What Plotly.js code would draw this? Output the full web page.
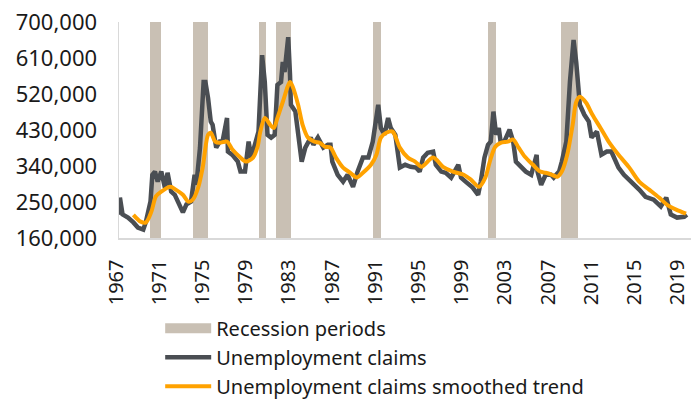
<!DOCTYPE html>
<html>
<head>
<meta charset="utf-8">
<script src="https://cdn.plot.ly/plotly-3.0.1.min.js"></script>
<style>
  html, body { margin: 0; padding: 0; background: #ffffff; }
  #chart { width: 691px; height: 400px; }
</style>
</head>
<body>
<div id="chart"></div>
<script>
// Recession periods (start month, first month after end)
const recessionStarts = ['1969-12-01','1973-11-01','1980-01-01','1981-07-01','1990-07-01','2001-03-01','2007-12-01'];
const recessionEnds   = ['1970-12-01','1975-04-01','1980-08-01','1982-12-01','1991-04-01','2001-12-01','2009-07-01'];

// Unemployment claims
const claimDates = ['1967-01','1967-02','1967-05','1967-11','1968-05','1968-10','1969-04','1969-07','1969-12',
  '1970-02','1970-05','1970-08','1970-12','1971-04','1971-07','1971-11','1972-03','1972-07','1972-12',
  '1973-04','1973-09','1974-01','1974-03','1974-07','1974-11','1975-01','1975-04','1975-07','1975-09',
  '1976-01','1976-05','1976-08','1977-01','1977-02','1977-07','1978-01','1978-04','1978-09','1979-01',
  '1979-04','1979-08','1979-12','1980-04','1980-07','1980-10','1981-02','1981-06','1981-09','1982-01',
  '1982-03','1982-05','1982-09','1982-11','1982-12','1983-05','1983-08','1983-12','1984-04','1984-10',
  '1985-01','1985-06','1985-12','1986-05','1986-08','1986-10','1987-04','1987-10','1988-03','1988-09',
  '1989-02','1989-08','1990-02','1990-07','1991-01','1991-04','1991-08','1991-12','1992-03','1992-08',
  '1993-01','1993-07','1994-01','1994-07','1994-11','1995-03','1995-08','1996-02','1996-05','1996-11',
  '1997-04','1997-10','1998-06','1998-09','1999-02','1999-10','2000-04','2000-07','2000-11','2001-03',
  '2001-06','2001-09','2001-12','2002-03','2002-05','2002-09','2003-03','2003-07','2003-10','2004-04',
  '2004-09','2005-03','2005-09','2005-10','2006-02','2006-07','2007-01','2007-04','2007-10','2008-01',
  '2008-06','2008-10','2009-02','2009-05','2009-09','2010-02','2010-07','2010-10','2011-04','2011-09',
  '2012-03','2012-08','2013-04','2013-10','2014-06','2015-03','2015-10','2016-07','2017-03','2017-09',
  '2018-02','2018-09','2019-05','2019-08'];
const claimValues = [218000,261000,219000,211000,199000,186000,181000,201000,251000,
  318000,326000,301000,326000,286000,323000,276000,268000,251000,224000,
  244000,251000,318000,293000,385000,550000,550000,510000,451000,443000,
  386000,401000,401000,460000,376000,368000,351000,326000,326000,401000,
  361000,393000,426000,617000,550000,418000,411000,418000,543000,550000,
  600000,575000,662000,568000,493000,476000,411000,351000,386000,411000,
  393000,411000,386000,393000,393000,351000,318000,301000,318000,288000,
  326000,361000,361000,401000,493000,435000,418000,460000,435000,418000,
  336000,343000,338000,336000,326000,361000,373000,376000,343000,326000,
  323000,311000,343000,311000,301000,286000,268000,301000,361000,393000,
  401000,476000,418000,435000,401000,401000,431000,401000,351000,336000,
  326000,318000,368000,326000,293000,318000,318000,311000,326000,351000,
  401000,550000,655000,600000,493000,468000,451000,411000,426000,368000,
  376000,376000,336000,318000,301000,281000,263000,256000,239000,261000,
  219000,211000,213000,218000];

// Smoothed trend
const trendDates = ['1968-05','1969-01','1969-07','1970-01','1970-06','1970-12','1971-10','1972-04','1972-12',
  '1973-06','1973-11','1974-05','1974-10','1975-04','1975-07','1975-12','1976-05','1977-01','1977-07',
  '1978-03','1978-10','1979-06','1979-11','1980-02','1980-07','1981-01','1981-05','1981-09','1982-03',
  '1982-11','1983-02','1983-08','1984-01','1984-07','1985-02','1985-08','1986-02','1986-08','1987-02',
  '1987-10','1988-06','1989-01','1989-08','1990-05','1990-11','1991-04','1991-10','1992-05','1993-01',
  '1993-10','1994-06','1995-01','1996-02','1997-01','1997-12','1998-12','1999-08','2000-05','2000-12',
  '2001-05','2001-11','2002-05','2003-01','2003-07','2004-01','2004-08','2005-05','2006-01','2006-07',
  '2007-02','2007-08','2008-01','2008-07','2009-01','2009-05','2009-09','2010-04','2010-11','2011-08',
  '2012-05','2013-04','2014-04','2015-03','2016-02','2017-01','2017-10','2018-08','2019-07'];
const trendValues = [218000,201000,199000,226000,264000,276000,288000,281000,268000,
  251000,256000,286000,336000,418000,423000,401000,398000,401000,381000,
  363000,351000,361000,388000,426000,460000,443000,435000,460000,500000,
  550000,538000,493000,443000,411000,401000,398000,388000,386000,361000,
  336000,323000,311000,323000,343000,368000,411000,423000,426000,386000,
  361000,351000,338000,361000,338000,326000,318000,306000,288000,311000,
  351000,388000,398000,401000,406000,386000,363000,343000,326000,323000,
  318000,313000,326000,368000,443000,500000,513000,498000,468000,435000,
  401000,368000,336000,301000,281000,261000,243000,231000,221000];

// Axis ticks
const yTicks = [160000,250000,340000,430000,520000,610000,700000];
const xTickYears = ['1967','1971','1975','1979','1983','1987','1991','1995','1999','2003','2007','2011','2015','2019'];

const yMin = 160000, yMax = 700000;
const BAND = '#c9c0b4';

const recMid = recessionStarts.map((s, i) => new Date((Date.parse(s) + Date.parse(recessionEnds[i])) / 2).toISOString());
const recWidth = recessionStarts.map((s, i) => Date.parse(recessionEnds[i]) - Date.parse(s));

const FONT = 'Noto Sans, Open Sans, sans-serif';
const TXT = '#1a1a1a';

const traces = [
  {
    type: 'bar', name: 'Recession periods', showlegend: false,
    x: recMid, width: recWidth,
    y: recMid.map(() => yMax - yMin), base: yMin,
    marker: {color: BAND, line: {width: 0}},
    hoverinfo: 'skip'
  },
  {
    // legend entry for the recession bands (wide swatch)
    type: 'scatter', mode: 'lines', name: 'Recession periods',
    x: [null], y: [null],
    line: {color: BAND, width: 12}
  },
  {
    type: 'scatter', mode: 'lines', name: 'Unemployment claims',
    x: claimDates, y: claimValues,
    line: {color: '#4a4e53', width: 4.5, shape: 'linear'}
  },
  {
    type: 'scatter', mode: 'lines', name: 'Unemployment claims smoothed trend',
    x: trendDates, y: trendValues,
    line: {color: '#ffa200', width: 4, shape: 'spline', smoothing: 0.8}
  }
];

const layout = {
  width: 691, height: 400,
  margin: {l: 119, r: 0, t: 22, b: 161.5, autoexpand: false},
  paper_bgcolor: '#ffffff', plot_bgcolor: '#ffffff',
  font: {family: FONT, color: TXT},
  showlegend: true,
  legend: {
    orientation: 'v', x: 0.072, xanchor: 'left', y: -0.328, yanchor: 'top',
    font: {family: FONT, size: 20, color: TXT},
    itemwidth: 46, tracegroupgap: 0, bgcolor: 'rgba(0,0,0,0)'
  },
  xaxis: {
    type: 'date',
    range: ['1967-01-01', '2019-12-17'],
    tickvals: xTickYears.map(y => y + '-01-01'),
    ticktext: xTickYears,
    tickangle: -90,
    tickfont: {family: FONT, size: 20, color: TXT},
    showgrid: false, zeroline: false,
    showline: true, linecolor: '#d9d9d9', linewidth: 1.5,
    ticks: '', ticklabelstandoff: 12, ticklabelshift: -3, ticklabeloverflow: 'allow'
  },
  yaxis: {
    range: [yMin, yMax],
    tickvals: yTicks,
    tickformat: ',d',
    tickfont: {family: FONT, size: 22, color: TXT},
    showgrid: false, zeroline: false,
    showline: true, linecolor: '#d9d9d9', linewidth: 1.5,
    ticks: '', ticklabelstandoff: 16
  },
  bargap: 0
};

Plotly.newPlot('chart', traces, layout, {displayModeBar: false, staticPlot: true});
</script>
</body>
</html>
